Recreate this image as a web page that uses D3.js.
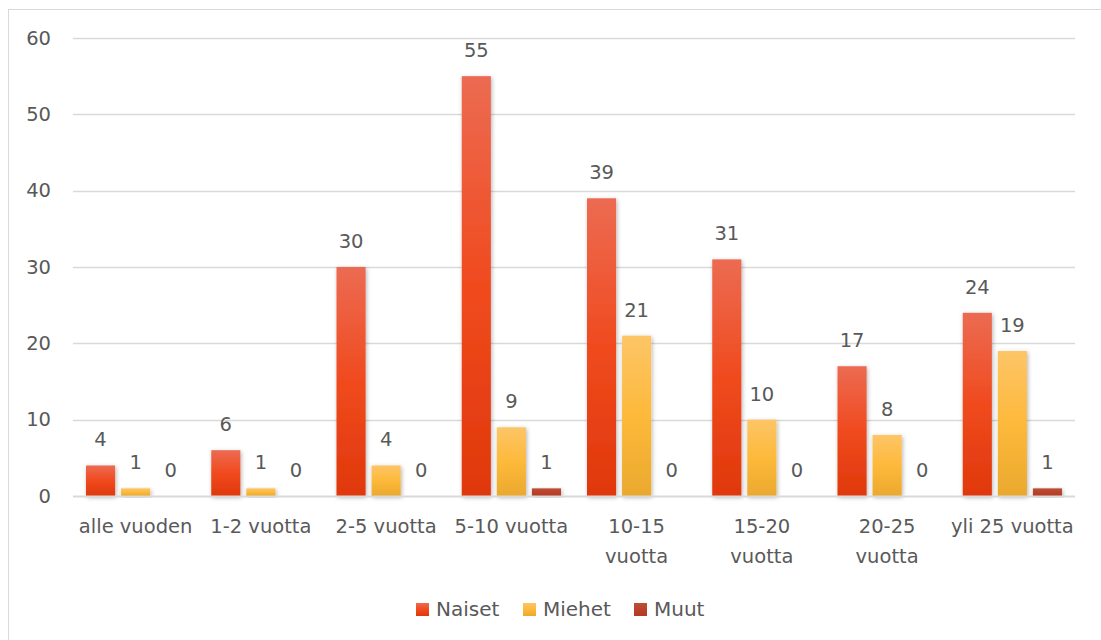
<!DOCTYPE html>
<html>
<head>
<meta charset="utf-8">
<script src="https://cdn.jsdelivr.net/npm/d3@7"></script>
<style>
  body { margin: 0; background: #fff; }
  svg text { font-family: "DejaVu Sans", sans-serif; fill: #595959; }
</style>
</head>
<body>
<svg id="root" width="1101" height="640"></svg>
<script>
const categories = ['alle vuoden', '1-2 vuotta', '2-5 vuotta', '5-10 vuotta',
  '10-15 vuotta', '15-20 vuotta', '20-25 vuotta', 'yli 25 vuotta'];
// labels Excel wrapped onto two lines
const wrapped = ['10-15 vuotta', '15-20 vuotta', '20-25 vuotta'];
const seriesNames = ['Naiset', 'Miehet', 'Muut'];
const naiset = [4, 6, 30, 55, 39, 31, 17, 24];
const miehet = [1, 1, 4, 9, 21, 10, 8, 19];
const muut = [0, 0, 0, 1, 0, 0, 0, 1];
const yTicks = [0, 10, 20, 30, 40, 50, 60];

const root = d3.select('#root');
const margin = { left: 73, right: 26, top: 38, bottom: 144 };
const width = 1101 - margin.left - margin.right;
const height = 640 - margin.top - margin.bottom;
const fs = '19.5px';

const colors = [
  ['#ec6b52', '#f04a1e', '#e0380b'],
  ['#fdc567', '#fdb93a', '#eaa92e'],
  ['#ba4f37', '#b9432a', '#b53a22']
];

const defs = root.append('defs');
colors.forEach((c, i) => {
  const g = defs.append('linearGradient').attr('id', 'grad' + i)
    .attr('x1', 0).attr('y1', 0).attr('x2', 0).attr('y2', 1);
  g.append('stop').attr('offset', '0%').attr('stop-color', c[0]);
  g.append('stop').attr('offset', '50%').attr('stop-color', c[1]);
  g.append('stop').attr('offset', '100%').attr('stop-color', c[2]);
});
const shadow = defs.append('filter').attr('id', 'shadow')
  .attr('x', '-30%').attr('y', '-10%').attr('width', '160%').attr('height', '130%');
shadow.append('feDropShadow').attr('dx', 1).attr('dy', 1.5)
  .attr('stdDeviation', 2).attr('flood-color', '#000').attr('flood-opacity', 0.3);

// outer chart frame
root.append('rect').attr('x', 8.5).attr('y', 9.5).attr('width', 1110).attr('height', 650)
  .attr('fill', 'none').attr('stroke', '#d9d9d9');

const g = root.append('g').attr('transform', `translate(${margin.left},${margin.top})`);

const x0 = d3.scaleBand().domain(categories).range([0, width]).paddingInner(0).paddingOuter(0);
const x1 = d3.scaleBand().domain(seriesNames).range([13, x0.bandwidth() - 13]).paddingInner(0.17).paddingOuter(0);
const y = d3.scaleLinear().domain([0, 60]).range([height, 0]);

// gridlines
g.append('g').selectAll('line').data(yTicks.filter(d => d > 0)).join('line')
  .attr('x1', 0).attr('x2', width)
  .attr('y1', d => Math.round(y(d)) + 0.5).attr('y2', d => Math.round(y(d)) + 0.5)
  .attr('stroke', '#d9d9d9').attr('stroke-width', 1.5);

// y axis labels
const yAxis = g.append('g').call(d3.axisLeft(y).tickValues(yTicks).tickSize(0).tickPadding(22));
yAxis.select('.domain').remove();
yAxis.selectAll('text').style('font-size', fs).attr('fill', '#595959');

const series = [naiset, miehet, muut];
series.forEach((vals, si) => {
  const grp = g.append('g');
  grp.selectAll('rect').data(vals).join('rect')
    .attr('x', (d, i) => x0(categories[i]) + x1(seriesNames[si]))
    .attr('y', d => y(d))
    .attr('width', x1.bandwidth())
    .attr('height', d => height - y(d))
    .attr('fill', `url(#grad${si})`)
    .attr('filter', d => d > 0 ? 'url(#shadow)' : null);
  grp.selectAll('text').data(vals).join('text')
    .attr('x', (d, i) => x0(categories[i]) + x1(seriesNames[si]) + x1.bandwidth() / 2)
    .attr('y', d => y(d) - 19)
    .attr('text-anchor', 'middle')
    .style('font-size', fs)
    .text(d => d);
});

// x axis baseline
g.append('line').attr('x1', 0).attr('x2', width)
  .attr('y1', height + 0.5).attr('y2', height + 0.5)
  .attr('stroke', '#d9d9d9').attr('stroke-width', 2);

// category labels
const xl = g.append('g').selectAll('text').data(categories).join('text')
  .attr('text-anchor', 'middle')
  .attr('x', d => x0(d) + x0.bandwidth() / 2)
  .attr('y', height + 37)
  .style('font-size', fs);
xl.each(function (d) {
  const t = d3.select(this);
  const lines = wrapped.includes(d) ? d.split(' ') : [d];
  lines.forEach((l, i) => {
    t.append('tspan').attr('x', x0(d) + x0.bandwidth() / 2).attr('dy', i === 0 ? 0 : 30).text(l);
  });
});

// legend
const legendItems = [{ x: 416, tx: 436 }, { x: 523, tx: 543 }, { x: 634, tx: 654 }];
const lg = root.append('g');
seriesNames.forEach((n, i) => {
  lg.append('rect').attr('x', legendItems[i].x).attr('y', 603).attr('width', 13).attr('height', 13)
    .attr('fill', `url(#grad${i})`);
  lg.append('text').attr('x', legendItems[i].tx).attr('y', 616).style('font-size', '20px').text(n);
});
</script>
</body>
</html>
